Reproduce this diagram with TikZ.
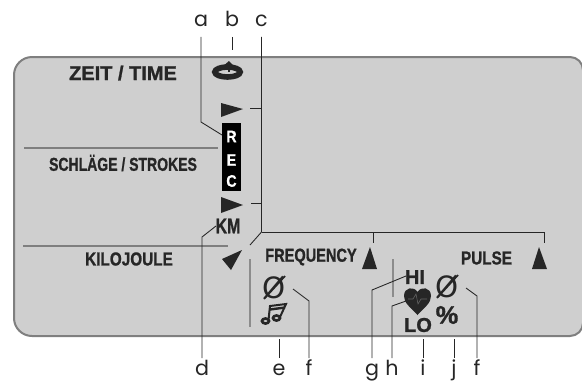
\documentclass[tikz,border=0pt]{standalone}
\usepackage{fontspec}
\setmainfont{Liberation Sans}[BoldFeatures={FakeBold=1.2}]
\newfontfamily\labfont{Poppins}
\newfontfamily\symfont{DejaVu Sans}
\definecolor{panelfill}{HTML}{CFCFCF}
\definecolor{panelline}{HTML}{7F7F7F}
\definecolor{ink}{HTML}{262626}
\tikzset{
 x=0.75pt,y=-0.75pt,
 toplab/.style={anchor=base,inner sep=0pt,outer sep=0pt,font=\labfont\fontsize{15.5}{15.5}\selectfont,text=ink,text height=10pt,text depth=8.2pt},
 botlab/.style={anchor=base,inner sep=0pt,outer sep=0pt,font=\labfont\fontsize{15.5}{15.5}\selectfont,text=ink,text height=13.1pt,text depth=1.5pt},
 leader/.style={draw=ink,line width=0.65pt},
 rule/.style={draw=panelline,line width=0.9pt},
 greybar/.style={draw=black!45,line width=1.4pt},
 disp/.style={inner sep=0pt,font=\bfseries\fontsize{13}{13}\selectfont,text=ink},
 recletter/.style={text=white,inner sep=0pt,xscale=0.85,font=\bfseries\fontsize{12.5}{12.5}\selectfont},
 dia/.style={inner sep=0pt,font=\symfont\fontsize{22}{22}\selectfont,text=ink},
}
\begin{document}
\begin{tikzpicture}
\useasboundingbox (0,0) rectangle (582,380);
\clip (0,0) rectangle (582,380);
% panel
\path[fill=panelfill,draw=panelline,line width=1.5pt]
  (32,57) -- (570,57) arc[start angle=270,end angle=360,radius=13] -- (583,323) arc[start angle=0,end angle=90,radius=13] -- (32,336) arc[start angle=90,end angle=180,radius=18] -- (14,75) arc[start angle=180,end angle=270,radius=18] -- cycle;
% rules
\draw[rule] (24,148) -- (218,148);
\draw[rule] (23,246) -- (228,246);
\draw[greybar] (250,259) -- (250,327);
\draw[greybar] (393,259) -- (393,297);
% texts
\node[disp] (zeit) at (123,73) {\fontsize{15}{15}\selectfont ZEIT / TIME};
\node[disp,xscale=0.75] (strokes) at (123,163) {\fontsize{14}{14}\selectfont SCHLÄGE / STROKES};
\node[disp,xscale=0.82] (kilo) at (129,259) {\fontsize{14}{14}\selectfont KILOJOULE};
\node[disp,xscale=0.78] (freq) at (311,257) {\fontsize{14}{14}\selectfont FREQUENCY};
\node[disp,xscale=0.82] (pulse) at (486.500,258) {\fontsize{14}{14}\selectfont PULSE};
% REC
\node[fill=black,minimum width=14.25pt,minimum height=51pt,inner sep=0pt,anchor=north west] (rec) at (222,123) {};
\node[recletter] (recr) at (231.500,136.500) {R};
\node[recletter] (rece) at (231.500,160) {E};
\node[recletter] (recc) at (231.500,181) {C};
% triangles
\fill[ink] (221,103) -- (243,109) -- (221,117) -- cycle;
\fill[ink] (221,197) -- (243,205) -- (221,213) -- cycle;
\fill[ink] (242,250) -- (222,259) -- (231,270) -- cycle;
\fill[ink] (370,247) -- (362,269) -- (377,269) -- cycle;
\fill[ink] (539,247) -- (532,269) -- (547,269) -- cycle;
% timer icon
\draw[ink,line width=4.2pt] (227.500,72) ellipse[x radius=12.700,y radius=5];
\draw[ink,line width=2.2pt] (229,72) -- (229,65);
\fill[ink] (222,67) -- (229,61) -- (235,67) -- cycle;
% KM, HI, LO, %
\node[disp,xscale=0.75] (km) at (228,226) {\fontsize{16}{16}\selectfont KM};
\node[disp] (hi) at (415,277) {\fontsize{15}{15}\selectfont HI};
\node[disp] (lo) at (418,325) {\fontsize{15}{15}\selectfont LO};
\node[disp] (pct) at (447,315) {\fontsize{19}{19}\selectfont\%};
% diameters
\node[dia] (dia1) at (274,288) {Ø};
\node[dia] (dia2) at (447,287) {Ø};
\draw[ink,line width=1.3pt] (264,299) -- (285,276);
\draw[ink,line width=1.3pt] (437,298) -- (458,275);
% music
\draw[ink,line width=2pt] (265.500,321) ellipse[x radius=3.500,y radius=2.500];
\draw[ink,line width=2pt] (276.500,318) ellipse[x radius=3.500,y radius=2.500];
\draw[ink,line width=1.5pt] (268.500,320) -- (270,306) -- (286,304) -- (280,317);
\draw[ink,line width=1.8pt] (270,309.500) -- (285,307.500);
% heart
\fill[ink] (417.500,315) .. controls (410,307) and (404,303) .. (404,296) .. controls (404,287) and (414,286) .. (417.500,292) .. controls (421,286) and (431,287) .. (431,296) .. controls (431,303) and (425,307) .. (417.500,315) -- cycle;
\draw[black!60,line width=0.4pt] (408,299) -- (413,299) -- (416,294) -- (418,304) -- (421,299) -- (427,299);
% labels
\node[toplab] (la) at (201,26) {a};
\node[toplab] (lb) at (232,26) {b};
\node[toplab] (lc) at (261.500,26) {c};
\node[botlab] (ld) at (202,375.500) {d};
\node[botlab] (le) at (279,375.500) {e};
\node[botlab] (lf) at (309,375.500) {f};
\node[botlab] (lg) at (372,375.500) {g};
\node[botlab] (lh) at (392,375.500) {h};
\node[botlab] (li) at (423,375.500) {i};
\node[botlab] (lj) at (454,375.500) {j};
\node[botlab] (lff) at (477,375.500) {f};
% coordinates
\coordinate (recl) at (222,135);
\coordinate (bend) at (261.500,232);
\coordinate (tick1) at (250,108);
\coordinate (tick2) at (251,203);
\coordinate (diag) at (250,245);
\coordinate (drop1) at (373,243);
\coordinate (drop2) at (544,243);
% connectors
\draw[leader] (la.south) -- (201,122) -- (recl);
\draw[leader] (lb.south) -- (232,50);
\draw[leader] (lc.south) -- (bend) -- (diag);
\draw[leader] (tick1) -- (261.500,108);
\draw[leader] (tick2) -- (261.500,203);
\draw[leader] (bend) -- (544,232) -- (drop2);
\draw[leader] (373,232) -- (drop1);
\draw[leader] (ld.north) -- (202,237) -- (216,226);
\draw[leader] (le.north) -- (279,339);
\draw[leader] (lf.north) -- (309,301) -- (293,289);
\draw[leader] (lg.north) -- (372,290) -- (406,276);
\draw[leader] (lh.north) -- (392,306) -- (406,301);
\draw[leader] (li.north) -- (423,339);
\draw[leader] (lj.north) -- (454,339);
\draw[leader] (lff.north) -- (477,296) -- (466,288);
\end{tikzpicture}
\end{document}
